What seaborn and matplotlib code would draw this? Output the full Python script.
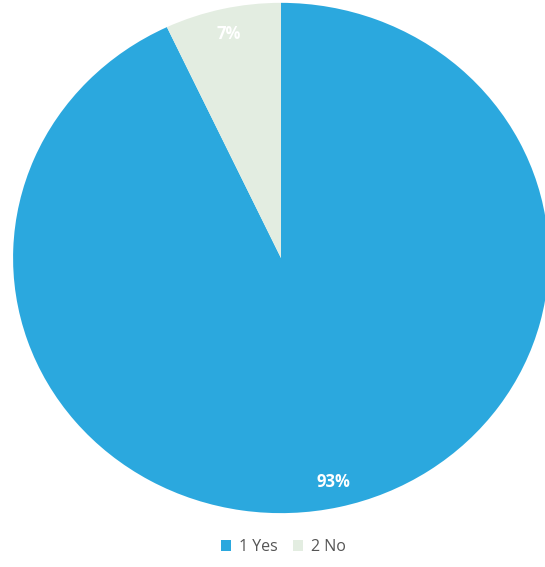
import matplotlib
matplotlib.use("Agg")
import matplotlib.pyplot as plt
import seaborn as sns

# chart data
categories = ["1 Yes", "2 No"]
shares = [93, 7]
slice_colors = ["#2BA8DE", "#E3EDE1"]

sns.set_theme(style="white")
plt.rcParams["font.family"] = ["Open Sans", "DejaVu Sans"]

fig = plt.figure(figsize=(5.45, 5.67), dpi=100)
# scanned pie is slightly wider than tall, so let the axes stretch it
ax = fig.add_axes([0.024, 0.095, 0.983, 0.9])

wedges, texts, autotexts = ax.pie(
    shares,
    colors=slice_colors,
    startangle=90,
    counterclock=False,
    autopct="%d%%",
    pctdistance=0.9,
    wedgeprops=dict(linewidth=0),
    textprops=dict(color="white", fontsize=12, fontweight="bold"),
)
ax.set_xlim(-1.0, 1.0)
ax.set_ylim(-1.0, 1.0)
ax.set_aspect("auto")

fig.legend(
    wedges, categories,
    loc="center", bbox_to_anchor=(0.52, 0.035),
    ncol=2, frameon=False, fontsize=11.5,
    handlelength=0.6, handleheight=0.6, handletextpad=0.5,
    columnspacing=1.0, labelcolor="#555555",
)

fig.savefig("out.png", dpi=100)
